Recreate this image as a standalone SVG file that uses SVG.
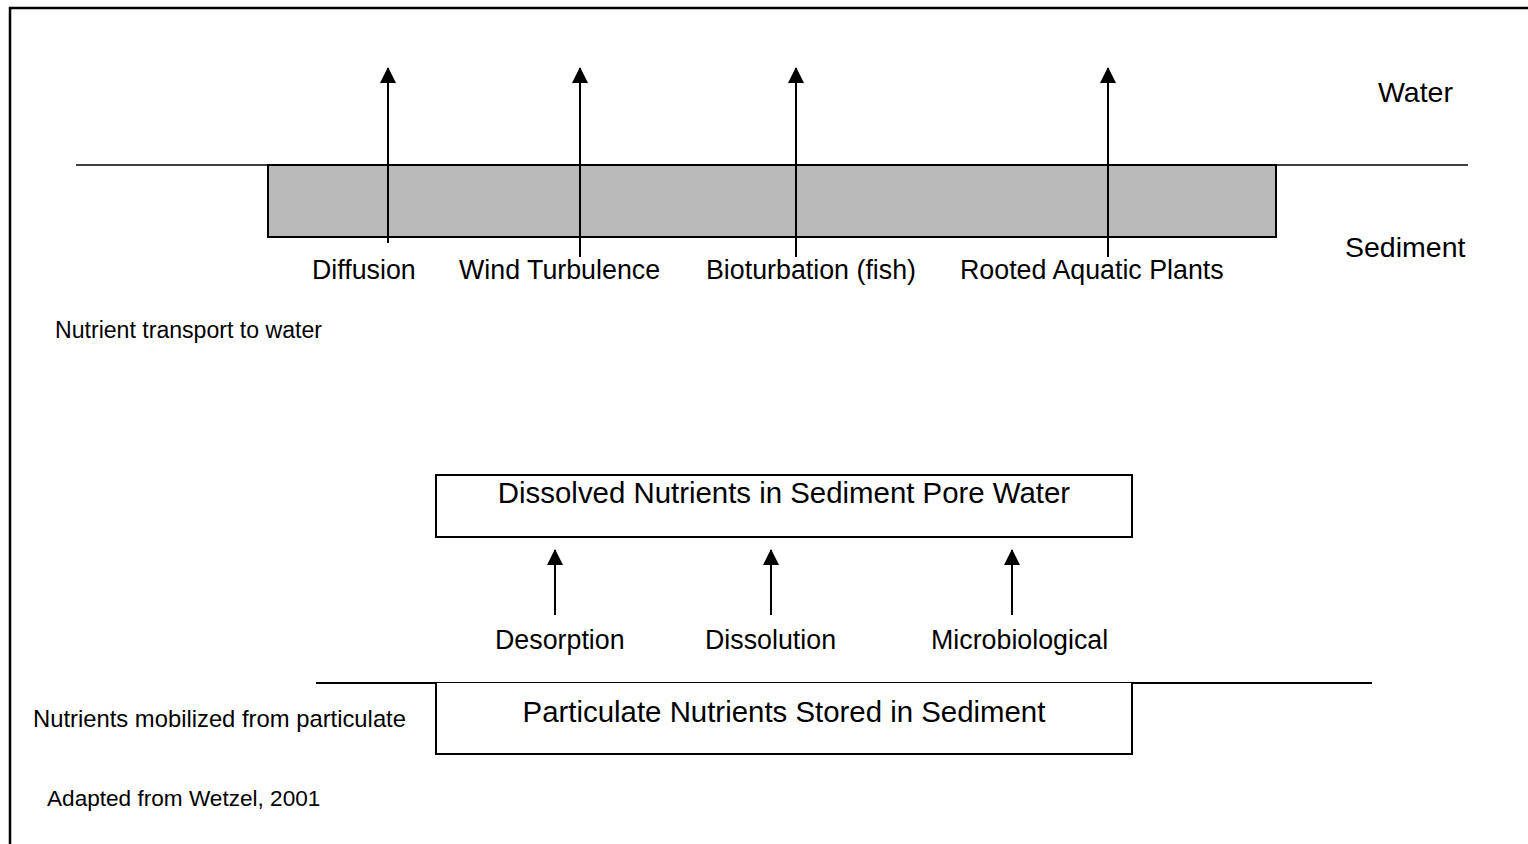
<svg xmlns="http://www.w3.org/2000/svg" width="1528" height="844" viewBox="0 0 1528 844">
<defs>
<style>
text{font-family:"Liberation Sans",Arial,sans-serif;fill:#000}
.lbl{font-size:26.8px}
.big{font-size:28.5px}
.box-t{font-size:29.4px}
.sm{font-size:22.6px}
.ln{stroke:#000;stroke-width:2;fill:none}
.box{fill:#fff;stroke:#000;stroke-width:2}
</style>
<marker id="ah" viewBox="0 0 16 16" markerWidth="16" markerHeight="16" refX="15" refY="8" orient="auto" markerUnits="userSpaceOnUse">
<path d="M0,0 L16,8 L0,16 Z" fill="#000"/>
</marker>
</defs>
<rect x="0" y="0" width="1528" height="844" fill="#fff"/>
<path d="M10,844 V8 H1528" fill="none" stroke="#000" stroke-width="2.5"/>

<g id="water-line"><line x1="76" y1="165" x2="1468" y2="165" stroke="#000" stroke-width="1.5"/></g>
<g id="sediment-band"><rect x="268" y="165" width="1008" height="72" fill="#b9b9b9" stroke="#000" stroke-width="2"/></g>

<g id="particulate-line"><line x1="316" y1="683" x2="1372" y2="683" stroke="#000" stroke-width="2"/></g>

<g id="dissolved-box">
<rect class="box" x="436" y="475" width="696" height="62"/>
<text class="box-t" x="784" y="503" text-anchor="middle">Dissolved Nutrients in Sediment Pore Water</text>
</g>
<g id="particulate-box">
<path d="M436,683 V754 H1132 V683" fill="#fff" stroke="#000" stroke-width="2"/>
<text class="box-t" x="784" y="722" text-anchor="middle">Particulate Nutrients Stored in Sediment</text>
</g>

<g id="connectors">
<line class="ln" x1="388" y1="243" x2="388" y2="68" marker-end="url(#ah)"/>
<line class="ln" x1="580" y1="257" x2="580" y2="68" marker-end="url(#ah)"/>
<line class="ln" x1="796" y1="257" x2="796" y2="68" marker-end="url(#ah)"/>
<line class="ln" x1="1108" y1="257" x2="1108" y2="68" marker-end="url(#ah)"/>
<line class="ln" x1="555" y1="615" x2="555" y2="550" marker-end="url(#ah)"/>
<line class="ln" x1="771" y1="615" x2="771" y2="550" marker-end="url(#ah)"/>
<line class="ln" x1="1012" y1="615" x2="1012" y2="550" marker-end="url(#ah)"/>
</g>

<g id="labels">
<text class="big" x="1378" y="102">Water</text>
<text class="big" x="1345" y="257">Sediment</text>
<text class="lbl" x="312" y="279">Diffusion</text>
<text class="lbl" x="459" y="279">Wind Turbulence</text>
<text class="lbl" x="706" y="279">Bioturbation (fish)</text>
<text class="lbl" x="960" y="279">Rooted Aquatic Plants</text>
<text class="sm" x="55" y="338" style="font-size:23.1px">Nutrient transport to water</text>
<text class="lbl" x="495" y="649">Desorption</text>
<text class="lbl" x="705" y="649">Dissolution</text>
<text class="lbl" x="931" y="649">Microbiological</text>
<text class="sm" x="33" y="727" style="font-size:23.8px">Nutrients mobilized from particulate</text>
<text class="sm" x="47" y="806">Adapted from Wetzel, 2001</text>
</g>
</svg>
